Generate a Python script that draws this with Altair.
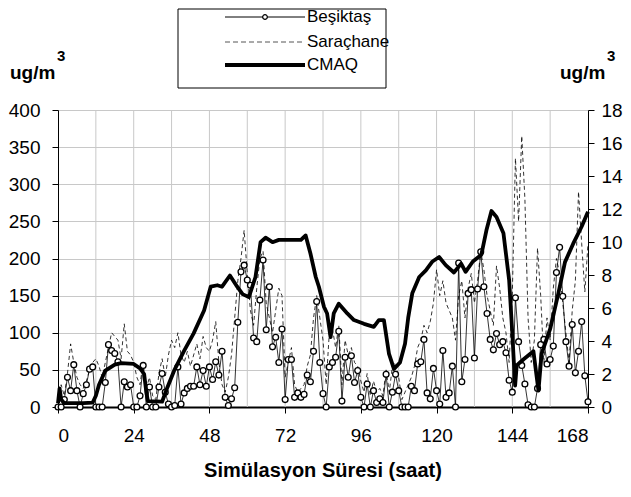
import altair as alt
import pandas as pd

hours = list(range(169))

besiktas = [0, 0, 10, 40, 22, 57, 22, 0, 18, 30, 51, 54, 0, 0, 0, 33, 84, 76, 72, 61,
            0, 34, 27, 30, 0, 0, 15, 56, 0, 27, 0, 0, 27, 45, 20, 4, 0, 2, 54, 4,
            19, 25, 28, 28, 54, 30, 49, 28, 54, 37, 61, 43, 75, 13, 2, 11, 26, 114, 182, 191,
            171, 164, 93, 88, 144, 198, 104, 162, 81, 94, 60, 105, 10, 64, 64, 13, 19, 13, 17, 43,
            34, 75, 142, 60, 18, 0, 54, 60, 67, 102, 8, 67, 40, 69, 33, 49, 13, 0, 31, 0,
            22, 6, 11, 6, 44, 0, 20, 44, 22, 0, 0, 0, 28, 22, 58, 61, 91, 19, 11, 52,
            22, 4, 76, 13, 19, 55, 0, 194, 34, 64, 153, 158, 66, 159, 209, 162, 126, 91, 77, 99,
            84, 88, 73, 36, 20, 147, 88, 56, 31, 3, 0, 0, 25, 84, 91, 58, 64, 82, 181, 215,
            149, 88, 55, 111, 46, 75, 115, 42, 7]

sarachane = [10, 30, 15, 45, 85, 60, 40, 30, 25, 35, 50, 60, 65, 55, 40, 60, 80, 100, 95, 90,
             65, 112, 75, 70, 60, 40, 30, 60, 25, 40, 15, 10, 45, 65, 40, 70, 90, 80, 100, 70,
             60, 75, 55, 70, 85, 65, 95, 80, 75, 90, 115, 60, 30, 20, 40, 70, 120, 170, 200, 238,
             180, 130, 110, 160, 200, 210, 140, 120, 100, 130, 160, 150, 40, 60, 80, 30, 20, 25, 30, 55,
             70, 120, 150, 120, 90, 30, 100, 105, 80, 110, 30, 90, 70, 80, 60, 55, 35, 20, 45, 15,
             35, 20, 25, 15, 50, 20, 55, 60, 40, 10, 20, 30, 40, 55, 80, 90, 110, 100, 115, 140,
             185, 150, 170, 140, 130, 120, 90, 150, 170, 120, 160, 180, 140, 170, 210, 185, 150, 130, 110, 190,
             160, 120, 100, 60, 150, 335, 250, 365, 280, 120, 60, 90, 214, 150, 60, 120, 90, 160, 200, 180,
             140, 100, 60, 130, 170, 290, 220, 155, 220]

cmaq_hours = [0, 0.5, 1, 2, 4, 8, 11, 12, 13, 15, 18, 20, 24, 26, 27.3, 28, 28.5, 33, 34.7, 36.8,
              40, 43, 46.3, 48.4, 50.5, 52, 54.5, 56.8, 58.5, 60.5, 62.6, 64.2, 65.8, 68, 70, 77, 78.5, 80,
              81.7, 82.7, 84.3, 85.3, 86.4, 87.4, 89, 91.7, 93.8, 97, 100.1, 101.7, 103.3, 104.9, 106.5,
              108.4, 110, 111, 112.3, 114.5, 116.6, 118.7, 120.8, 122.9, 125.5, 127.8, 129.2, 131.5,
              134.2, 135.8, 137.4, 139, 141.2, 143, 144, 144.9, 145.4, 147.5, 150.7, 152.3, 153.3, 156,
              158.6, 160.7, 163.3, 166, 168]
cmaq = [0.23, 1.13, 0.45, 0.23, 0.23, 0.23, 0.27, 0.68, 1.35, 2.2, 2.57, 2.66, 2.61, 2.34, 2.0, 0.9, 0.36, 0.32, 1.2, 2.2,
        3.42, 4.46, 5.85, 7.29, 7.38, 7.29, 7.97, 7.29, 6.84, 6.66, 7.88, 9.99, 10.26, 9.99, 10.13, 10.13, 10.4, 9.32,
        7.88, 7.29, 6.08, 5.67, 4.23, 5.67, 6.26, 5.67, 5.27, 5.04, 4.86, 5.27, 5.27, 3.24, 2.3,
        2.7, 3.83, 5.4, 6.89, 7.88, 8.28, 8.82, 9.09, 8.6, 8.15, 8.69, 8.19, 8.82,
        9.23, 10.71, 11.88, 11.52, 10.53, 7.7, 4.5, 1.3, 2.52, 2.88, 3.38, 0.99, 3.24, 4.73,
        6.89, 8.78, 9.9, 10.94, 11.84]

x_ticks = [0, 24, 48, 72, 96, 120, 144, 168]
grid_hours = [12, 24, 36, 48, 60, 72, 84, 96, 108, 120, 132, 144, 156]
left_ticks = [0, 50, 100, 150, 200, 250, 300, 350, 400]
right_ticks = [0, 2, 4, 6, 8, 10, 12, 14, 16, 18]

series_names = ["Beşiktaş", "Saraçhane", "CMAQ"]
unit_text = "ug/m"
x_title = "Simülasyon Süresi (saat)"

W, H = 530, 297
FONT = "Liberation Sans"

df_b = pd.DataFrame({"hour": hours, "val": besiktas})
df_s = pd.DataFrame({"hour": hours, "val": sarachane})
df_c = pd.DataFrame({"hour": cmaq_hours, "val": cmaq})
df_g = pd.DataFrame({"hour": grid_hours})
one = pd.DataFrame({"k": [0]})

xscale = alt.Scale(domain=[0, 168], nice=False, zero=False)
xaxis = alt.Axis(values=x_ticks, labelFontSize=19, labelFont=FONT, labelColor="black",
                 grid=False, tickSize=6, tickColor="black", domainColor="black",
                 domainWidth=2, labelPadding=13, title=None)
yl_scale = alt.Scale(domain=[0, 400], nice=False)
yl_axis = alt.Axis(values=left_ticks, labelFontSize=19, labelFont=FONT, labelColor="black",
                   grid=True, gridColor="#c8c8c8", tickSize=6, tickColor="black",
                   domainColor="black", labelPadding=12, title=None)
yr_scale = alt.Scale(domain=[0, 18], nice=False)
yr_axis = alt.Axis(values=right_ticks, orient="right", labelFontSize=19, labelFont=FONT,
                   labelColor="black", grid=False, tickSize=6, tickColor="black",
                   domainColor="black", labelPadding=7, title=None)

X = alt.X("hour:Q", scale=xscale, axis=xaxis)

grid = alt.Chart(df_g).mark_rule(color="#c8c8c8", strokeWidth=1).encode(x=X)

sar = alt.Chart(df_s).mark_line(color="black", strokeWidth=0.8, strokeDash=[4, 3]).encode(
    x=X, y=alt.Y("val:Q", scale=yl_scale, axis=None))

bes_line = alt.Chart(df_b).mark_line(color="black", strokeWidth=0.8).encode(
    x=X, y=alt.Y("val:Q", scale=yl_scale, axis=None))

bes_pts = alt.Chart(df_b).mark_point(shape="circle", filled=True, fill="white", stroke="black",
                                     strokeWidth=1.3, size=34, opacity=1).encode(
    x=X, y=alt.Y("val:Q", scale=yl_scale, axis=yl_axis))

cm = alt.Chart(df_c).mark_line(color="black", strokeWidth=3.8, strokeJoin="round").encode(
    x=X, y=alt.Y("val:Q", scale=yr_scale, axis=yr_axis))

# legend (manual)
bx0, bx1, by0, by1 = 120, 328, -101, -22
lx0, lx1, tx = 167, 247, 249
rows = [-93, -68, -45]

box = alt.Chart(one).mark_rect(fill="white", stroke="black", strokeWidth=1).encode(
    x=alt.value(bx0), x2=alt.value(bx1), y=alt.value(by0), y2=alt.value(by1))
lg_b = alt.Chart(one).mark_rule(color="black", strokeWidth=1).encode(
    x=alt.value(lx0), x2=alt.value(lx1), y=alt.value(rows[0]))
lg_bp = alt.Chart(one).mark_point(shape="circle", filled=True, fill="white", stroke="black",
                                  strokeWidth=1.2, size=22, opacity=1).encode(
    x=alt.value((lx0 + lx1) / 2), y=alt.value(rows[0]))
lg_s = alt.Chart(one).mark_rule(color="#555555", strokeWidth=1, strokeDash=[5, 3]).encode(
    x=alt.value(lx0), x2=alt.value(lx1), y=alt.value(rows[1]))
lg_c = alt.Chart(one).mark_rule(color="black", strokeWidth=4).encode(
    x=alt.value(lx0), x2=alt.value(lx1), y=alt.value(rows[2]))

def txt(s, x, y, size=17, weight="normal", align="left"):
    return alt.Chart(one).mark_text(text=s, font=FONT, fontSize=size, fontWeight=weight,
                                    align=align, baseline="middle", color="black").encode(
        x=alt.value(x), y=alt.value(y))

texts = [
    txt(series_names[0], tx, rows[0]),
    txt(series_names[1], tx, rows[1]),
    txt(series_names[2], tx, rows[2]),
    txt(unit_text, -48, -37, size=19, weight="bold"),
    txt("3", -1, -54, size=15, weight="bold"),
    txt(unit_text, 502, -37, size=19, weight="bold"),
    txt("3", 549, -54, size=15, weight="bold"),
    txt(x_title, W / 2, 361, size=20, weight="bold", align="center"),
]

chart = alt.layer(grid, sar, bes_line, bes_pts, cm, box, lg_b, lg_s, lg_c, lg_bp, *texts).resolve_scale(
    y="independent"
).properties(
    width=W, height=H,
    autosize=alt.AutoSizeParams(type="none"),
    padding={"left": 50, "top": 102, "right": 35, "bottom": 82},
).configure_view(stroke="black", strokeWidth=2).configure(background="white")

chart.save("out.html", embed_options={"renderer": "svg", "actions": False})
